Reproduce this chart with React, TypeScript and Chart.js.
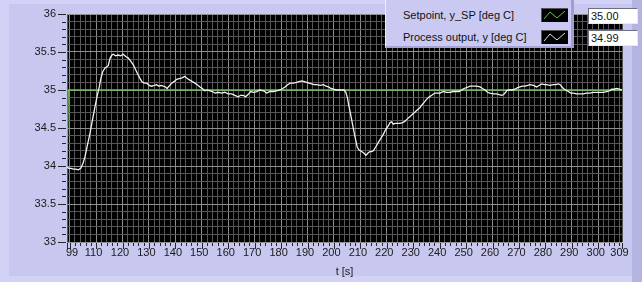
import React, { useEffect, useRef } from "react";
import { Chart, registerables } from "chart.js";

Chart.register(...registerables);

// ---- data ----
const X_MIN = 99;
const X_MAX = 309;
const Y_MIN = 33;
const Y_MAX = 36;

const xLabelValues = [99, 110, 120, 130, 140, 150, 160, 170, 180, 190, 200, 210, 220, 230, 240, 250, 260, 270, 280, 290, 300, 309];
const yLabelValues = [33, 33.5, 34, 34.5, 35, 35.5, 36];

const setpointTimes = [99, 99.5, 309];
const setpointValues = [34, 35, 35];

const outputTimes = [
  99.0, 99.6, 100.5, 101.4, 102.3, 103.3, 104.2, 105.0, 105.8, 106.7, 107.7, 108.6, 109.6, 110.4, 111.2, 111.8,
  112.5, 113.4, 114.6, 115.3, 116.0, 116.5, 117.4, 118.4, 119.3, 120.3, 121.2, 122.2, 123.1, 124.1, 124.8, 125.6,
  126.5, 127.3, 128.2, 129.2, 130.1, 131.0, 132.0, 132.9, 133.8, 134.6, 135.4, 136.3, 136.9, 137.6, 138.6, 139.5,
  140.5, 141.5, 142.5, 143.6, 144.5, 145.5, 146.4, 147.4, 148.3, 149.3, 150.2, 151.2, 152.1, 153.1, 154.0, 155.0,
  156.2, 157.5, 158.7, 160.0, 161.3, 162.5, 163.8, 164.7, 165.7, 166.5, 167.5, 168.5, 169.6, 170.8, 172.0, 173.3,
  174.6, 175.8, 177.1, 178.3, 179.6, 180.6, 181.5, 182.5, 183.4, 184.6, 185.9, 186.8, 187.8, 188.8, 189.7, 190.6,
  191.6, 192.5, 193.5, 194.8, 196.0, 197.0, 197.9, 198.9, 199.8, 201.0, 202.3, 203.8, 204.5, 205.1, 205.6, 206.1,
  206.7, 207.3, 208.0, 208.8, 209.5, 210.5, 211.3, 212.1, 212.9, 213.6, 214.3, 214.9, 215.8, 216.8, 217.7, 218.7,
  219.6, 220.6, 221.2, 221.8, 222.5, 223.1, 224.0, 225.0, 226.0, 226.9, 227.8, 228.8, 229.7, 230.7, 231.6, 232.6,
  233.2, 234.2, 235.1, 236.1, 237.0, 238.2, 239.2, 240.1, 241.4, 242.6, 243.9, 245.1, 246.4, 247.4, 248.3, 249.2,
  250.2, 251.5, 252.7, 254.0, 255.3, 256.2, 257.2, 258.1, 259.0, 260.3, 261.6, 262.5, 263.5, 264.2, 264.7, 265.4,
  266.0, 267.2, 268.5, 269.5, 270.4, 271.3, 272.3, 273.3, 274.2, 275.5, 276.7, 277.6, 278.6, 279.6, 280.5, 281.7,
  283.0, 284.0, 284.9, 285.6, 286.3, 286.8, 287.7, 288.7, 289.6, 290.6, 291.8, 293.1, 294.3, 295.6, 296.8, 298.1,
  299.4, 300.7, 301.9, 303.2, 304.4, 305.1, 306.0, 307.0, 308.0, 309.0,
];
const outputValues = [
  33.99, 33.97, 33.97, 33.96, 33.96, 33.95, 33.97, 34.03, 34.12, 34.27, 34.43, 34.6, 34.78, 34.92, 35.04, 35.15,
  35.24, 35.29, 35.32, 35.42, 35.46, 35.47, 35.45, 35.46, 35.45, 35.47, 35.44, 35.42, 35.38, 35.33, 35.28, 35.22,
  35.16, 35.11, 35.09, 35.09, 35.06, 35.05, 35.06, 35.07, 35.05, 35.06, 35.05, 35.04, 35.02, 35.05, 35.09, 35.11,
  35.14, 35.15, 35.16, 35.18, 35.15, 35.13, 35.11, 35.09, 35.07, 35.04, 35.02, 34.99, 35.0, 34.99, 34.98, 34.96,
  34.97, 34.96, 34.97, 34.95, 34.95, 34.93, 34.91, 34.93, 34.93, 34.91, 34.94, 34.98, 34.97, 34.98, 35.0, 34.99,
  34.96, 34.98, 34.98, 34.99, 35.0, 35.02, 35.04, 35.07, 35.09, 35.09, 35.1, 35.11, 35.12, 35.11, 35.1, 35.09,
  35.08, 35.07, 35.07, 35.06, 35.07, 35.05, 35.04, 35.02, 35.01, 35.0, 35.0, 35.0, 34.97, 34.9, 34.8, 34.72,
  34.61, 34.5, 34.38, 34.25, 34.21, 34.19, 34.17, 34.14, 34.17, 34.19, 34.19, 34.2, 34.25, 34.31, 34.36, 34.42,
  34.48, 34.53, 34.57, 34.58, 34.55, 34.56, 34.56, 34.56, 34.57, 34.59, 34.62, 34.65, 34.68, 34.71, 34.74, 34.77,
  34.8, 34.84, 34.88, 34.91, 34.93, 34.96, 34.96, 34.96, 34.98, 34.97, 34.97, 34.98, 34.98, 34.98, 35.0, 35.02,
  35.03, 35.05, 35.05, 35.05, 35.04, 35.02, 35.0, 34.97, 34.96, 34.95, 34.95, 34.94, 34.93, 34.94, 34.96, 34.99,
  35.0, 35.0, 35.01, 35.03, 35.04, 35.05, 35.05, 35.06, 35.07, 35.06, 35.04, 35.06, 35.08, 35.07, 35.07, 35.06,
  35.07, 35.07, 35.08, 35.07, 35.04, 35.02, 35.0, 34.98, 34.96, 34.96, 34.95, 34.95, 34.95, 34.96, 34.96, 34.97,
  34.97, 34.97, 34.97, 34.98, 34.99, 35.01, 35.01, 35.02, 35.01, 35.0,
];

const setpointLabel = "Setpoint, y_SP [deg C]";
const outputLabel = "Process output, y [deg C]";
const setpointReadout = "35.00";
const outputReadout = "34.99";
const xTitle = "t [s]";

// ---- styling ----
const FONT = "'Liberation Sans', Arial, sans-serif";
const PANEL = "#c7c7ef";
const PANEL_LIGHT = "#d2d2f6";
const GRID_MINOR = "#575757";
const GRID_MAJOR = "#909090";
const SP_COLOR = "#6dbf55";
const OUT_COLOR = "#f2f2f2";
const TEXT = "#1a1a1a";

// minor tick positions (axis ticks, not data)
const xTickValues: number[] = [X_MIN];
for (let v = 100; v < X_MAX; v += 2) xTickValues.push(v);
xTickValues.push(X_MAX);
const yTickValues: number[] = [];
for (let i = Y_MIN * 10; i <= Y_MAX * 10; i++) yTickValues.push(i / 10);

const isXMajor = (v: number) => xLabelValues.includes(v);
const isYMajor = (v: number) => Math.round(v * 10) % 5 === 0;

const panelPlugin = {
  id: "panel",
  beforeDraw(chart: any) {
    const { ctx, width, height, chartArea } = chart;
    ctx.save();
    ctx.fillStyle = PANEL_LIGHT;
    ctx.fillRect(0, 0, width, height);
    ctx.fillStyle = PANEL;
    ctx.fillRect(9, 4, width - 19, height - 10);
    ctx.fillStyle = "#b4b4e2";
    ctx.fillRect(width - 10, 0, 10, height);
    ctx.fillStyle = "#000000";
    ctx.fillRect(chartArea.left, chartArea.top, chartArea.right - chartArea.left, chartArea.bottom - chartArea.top);
    ctx.restore();
  },
  afterDraw(chart: any) {
    const { ctx, chartArea, scales } = chart;
    const x = scales.x;
    const y = scales.y;
    ctx.save();
    ctx.strokeStyle = "#262633";
    ctx.lineWidth = 1;
    ctx.beginPath();
    for (const v of yTickValues) {
      const py = Math.round(y.getPixelForValue(v)) + 0.5;
      const len = isYMajor(v) ? 8 : 4;
      ctx.moveTo(chartArea.left - 1 - len, py);
      ctx.lineTo(chartArea.left - 1, py);
    }
    for (const v of xTickValues) {
      const px = Math.round(x.getPixelForValue(v)) + 0.5;
      const len = isXMajor(v) || v === 100 ? 6 : 3;
      ctx.moveTo(px, chartArea.bottom + 1);
      ctx.lineTo(px, chartArea.bottom + 1 + len);
    }
    ctx.stroke();
    // x tick labels
    ctx.fillStyle = TEXT;
    ctx.font = `11px ${FONT}`;
    ctx.textBaseline = "top";
    for (const v of xLabelValues) {
      const px = x.getPixelForValue(v);
      if (v === X_MIN) {
        ctx.textAlign = "left";
        ctx.fillText(String(v), px - 1, chartArea.bottom + 5);
      } else {
        ctx.textAlign = "center";
        ctx.fillText(String(v), px - 2.5, chartArea.bottom + 5);
      }
    }
    ctx.restore();
  },
};

function LegendIcon({ color }: { color: string }) {
  return (
    <svg width={27} height={14} style={{ position: "absolute", left: 155, top: 0, background: "#000", boxShadow: "inset 1px 1px 0 #555" }}>
      <polyline points="3,11 9,4 16,10 24,3" fill="none" stroke={color} strokeWidth={1} />
    </svg>
  );
}

export default function App() {
  const canvasRef = useRef<HTMLCanvasElement | null>(null);

  useEffect(() => {
    if (!canvasRef.current) return;
    const outputData = outputTimes.map((t, i) => ({ x: t, y: outputValues[i] }));
    const setpointData = setpointTimes.map((t, i) => ({ x: t, y: setpointValues[i] }));
    const chart = new Chart(canvasRef.current, {
      type: "line",
      data: {
        datasets: [
          {
            label: outputLabel,
            data: outputData,
            borderColor: OUT_COLOR,
            borderWidth: 1.3,
            pointRadius: 0,
            tension: 0,
            order: 0,
          },
          {
            label: setpointLabel,
            data: setpointData,
            borderColor: SP_COLOR,
            borderWidth: 1.3,
            pointRadius: 0,
            tension: 0,
            order: 1,
          },
        ],
      },
      options: {
        responsive: false,
        animation: false,
        devicePixelRatio: 1,
        layout: { padding: { left: 0, right: 20, top: 14, bottom: 0 } },
        plugins: { legend: { display: false }, tooltip: { enabled: false } },
        scales: {
          x: {
            type: "linear",
            min: X_MIN,
            max: X_MAX,
            afterBuildTicks: (scale: any) => {
              scale.ticks = xTickValues.map((v) => ({ value: v }));
            },
            afterFit: (scale: any) => {
              scale.height = 40;
              scale.paddingLeft = 0;
              scale.paddingRight = 0;
            },
            ticks: {
              autoSkip: false,
              maxRotation: 0,
              padding: 3,
              color: "rgba(0,0,0,0)",
              font: { family: FONT, size: 11 },
              callback: () => "",
            },
            grid: {
              drawTicks: false,
              lineWidth: 1,
              color: (c: any) => (c.tick && c.tick.value % 10 === 0 ? GRID_MAJOR : GRID_MINOR),
            },
            border: { display: false },
            title: {
              display: true,
              text: xTitle,
              color: TEXT,
              font: { family: FONT, size: 11 },
              padding: { top: 0, bottom: 3 },
            },
          },
          y: {
            type: "linear",
            min: Y_MIN,
            max: Y_MAX,
            afterBuildTicks: (scale: any) => {
              scale.ticks = yTickValues.map((v) => ({ value: v }));
            },
            afterFit: (scale: any) => {
              scale.width = 67;
              scale.paddingTop = 0;
              scale.paddingBottom = 0;
            },
            ticks: {
              autoSkip: false,
              padding: 11,
              color: TEXT,
              font: { family: FONT, size: 11 },
              callback: (v: any) => {
                const n = Number(v);
                return yLabelValues.some((l) => Math.abs(l - n) < 1e-6) ? String(Math.round(n * 10) / 10) : "";
              },
            },
            grid: {
              drawTicks: false,
              lineWidth: 1,
              color: (c: any) => (c.tick && isYMajor(c.tick.value) ? GRID_MAJOR : GRID_MINOR),
            },
            border: { display: false },
          },
        },
      },
      plugins: [panelPlugin],
    } as any);
    return () => chart.destroy();
  }, []);

  const textStyle: React.CSSProperties = {
    position: "absolute",
    left: 17,
    fontFamily: FONT,
    fontSize: 11,
    color: "#111",
    whiteSpace: "nowrap",
    lineHeight: "14px",
  };
  const readoutStyle: React.CSSProperties = {
    position: "absolute",
    left: 588,
    width: 46,
    height: 14,
    background: "#ffffff",
    borderTop: "1px solid #6e6e80",
    borderLeft: "1px solid #6e6e80",
    borderRight: "1px solid #e8e8f8",
    borderBottom: "1px solid #e8e8f8",
    fontFamily: FONT,
    fontSize: 11,
    lineHeight: "14px",
    paddingLeft: 2,
    boxSizing: "content-box",
    color: "#111",
  };

  return (
    <div style={{ position: "fixed", left: 0, top: 0, width: 642, height: 282, overflow: "hidden" }}>
      <canvas ref={canvasRef} width={642} height={282} style={{ position: "absolute", left: 0, top: 0, width: 642, height: 282 }} />
      <div
        style={{
          position: "absolute",
          left: 385,
          top: -2,
          width: 185,
          height: 48,
          background: "#c9c9f1",
          borderLeft: "1px solid #ededff",
          borderRight: "3px solid #9e9ed2",
          borderBottom: "2px solid #a4a4d6",
        }}
      >
        <div style={{ position: "absolute", left: 0, top: 10, width: 185, height: 14 }}>
          <div style={{ ...textStyle, top: 0 }}>{setpointLabel}</div>
          <LegendIcon color={SP_COLOR} />
        </div>
        <div style={{ position: "absolute", left: 0, top: 32, width: 185, height: 14 }}>
          <div style={{ ...textStyle, top: 0 }}>{outputLabel}</div>
          <LegendIcon color="#e0e0e0" />
        </div>
      </div>
      <div style={{ ...readoutStyle, top: 8 }}>{setpointReadout}</div>
      <div style={{ ...readoutStyle, top: 30 }}>{outputReadout}</div>
    </div>
  );
}
